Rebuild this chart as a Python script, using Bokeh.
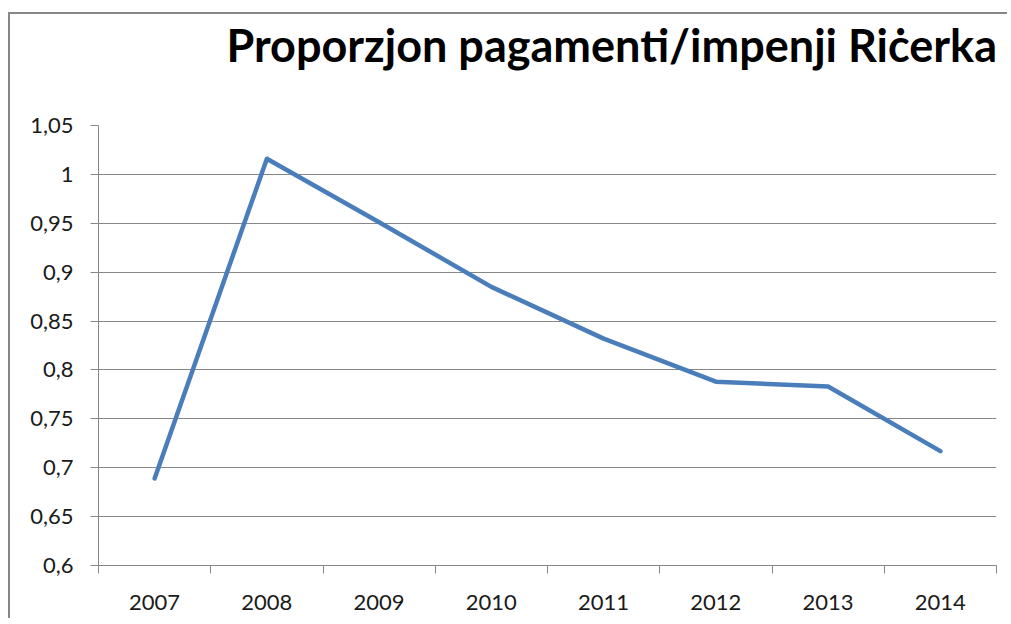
from bokeh.plotting import figure
from bokeh.models import Range1d, FixedTicker, CustomJSTickFormatter, Div
from bokeh.layouts import column
from bokeh.embed import file_html
from bokeh.resources import INLINE

# ---- data ----
years = [2007, 2008, 2009, 2010, 2011, 2012, 2013, 2014]
ratio = [0.689, 1.016, 0.951, 0.885, 0.832, 0.788, 0.783, 0.717]
y_ticks = [0.6, 0.65, 0.7, 0.75, 0.8, 0.85, 0.9, 0.95, 1.0, 1.05]
title_text = "Proporzjon pagamenti/impenji Riċerka"

FONT = "Lato"
GRAY = "#878787"

title = Div(
    text=title_text, width=987, height=63,
    styles={"font-family": FONT, "font-weight": "bold", "font-size": "45px",
            "line-height": "63px", "text-align": "right", "color": "#000000",
            "white-space": "nowrap", "margin": "0", "padding": "0"},
)

p = figure(
    width=999, height=543,
    output_backend="svg", toolbar_location=None,
    x_range=Range1d(years[0] - 0.5, years[-1] + 0.5),
    y_range=Range1d(y_ticks[0], y_ticks[-1]),
    min_border_left=88, min_border_right=13,
    min_border_top=48, min_border_bottom=55,
)

p.outline_line_color = None
p.background_fill_color = "white"
p.border_fill_color = "white"

p.line(years, ratio, line_color="#4a7ebb", line_width=4.5,
       line_cap="round", line_join="round")

# x axis: labels at categories, tick marks between them
bounds = [y - 0.5 for y in years] + [years[-1] + 0.5]
p.xaxis.ticker = FixedTicker(ticks=years, minor_ticks=bounds)
p.xaxis.major_label_overrides = {y: str(y) for y in years}
p.xaxis.major_tick_out = 0
p.xaxis.major_tick_in = 0
p.xaxis.minor_tick_out = 8
p.xaxis.minor_tick_in = 0
p.xaxis.minor_tick_line_color = GRAY
p.xaxis.axis_line_color = GRAY
p.xaxis.major_label_standoff = 21
p.xaxis.major_label_text_font = FONT
p.xaxis.major_label_text_font_size = "22px"
p.xaxis.major_label_text_color = "#1a1a1a"

p.yaxis.ticker = FixedTicker(ticks=y_ticks)
p.yaxis.formatter = CustomJSTickFormatter(
    code="return tick.toFixed(2).replace(/0+$/, '').replace(/\\.$/, '').replace('.', ',');")
p.yaxis.major_tick_out = 8
p.yaxis.major_tick_in = 0
p.yaxis.minor_tick_line_color = None
p.yaxis.major_tick_line_color = GRAY
p.yaxis.axis_line_color = GRAY
p.yaxis.major_label_standoff = 17
p.yaxis.major_label_text_font = FONT
p.yaxis.major_label_text_font_size = "22px"
p.yaxis.major_label_text_color = "#1a1a1a"

p.xgrid.grid_line_color = None
p.ygrid.grid_line_color = GRAY
p.ygrid.grid_line_width = 1
p.ygrid.ticker = FixedTicker(ticks=y_ticks)

layout = column(title, p, spacing=0,
                styles={"margin-left": "10px", "margin-top": "14px",
                        "box-shadow": "-2px -2px 0 0 " + GRAY,
                        "background-color": "white"})

open("out.html", "w").write(file_html(layout, INLINE))
